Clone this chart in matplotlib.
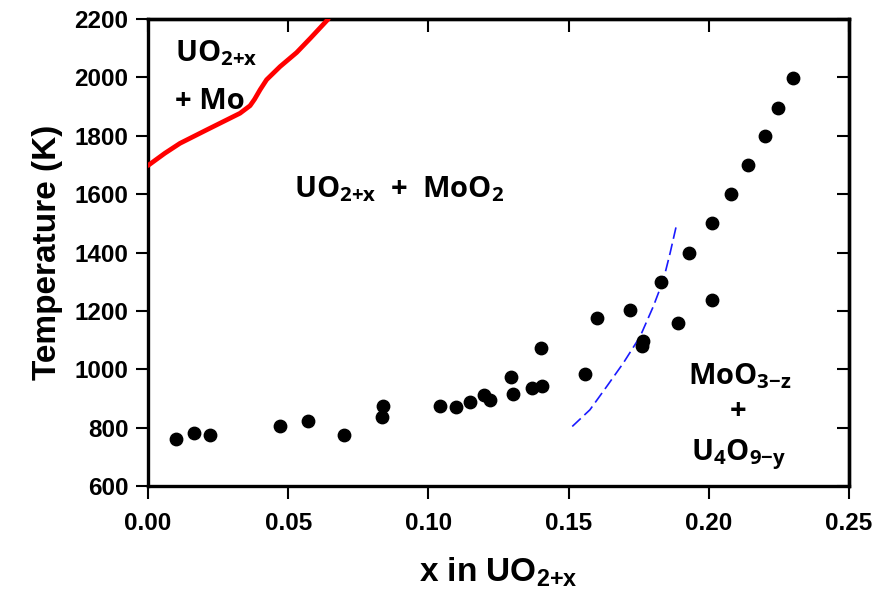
import numpy as np
import matplotlib.pyplot as plt

# measured points
x_pts = [0.010, 0.0165, 0.022, 0.047, 0.057, 0.070, 0.0839, 0.0836, 0.104, 0.110,
         0.115, 0.120, 0.122, 0.1296, 0.130, 0.137, 0.1405, 0.140, 0.156, 0.160,
         0.172, 0.176, 0.1765, 0.189, 0.183, 0.193, 0.201, 0.201, 0.208, 0.214,
         0.220, 0.2246, 0.230]
T_pts = [761, 783, 775, 807, 821, 775, 875, 838, 875, 872,
         889, 912, 894, 973, 916, 935, 941, 1073, 983, 1175,
         1203, 1078, 1097, 1160, 1299, 1400, 1238, 1500, 1600, 1700,
         1799, 1896, 1999]

# UO2+x / UO2+x+Mo boundary (red)
x_red = [0.0, 0.006, 0.0114, 0.0209, 0.0328, 0.0364, 0.0380, 0.0400, 0.0423, 0.0471, 0.053, 0.058, 0.0643]
T_red = [1698, 1740, 1774, 1820, 1877, 1903, 1925, 1958, 1992, 2037, 2085, 2135, 2200]

# blue dashed curve
x_blue = [0.1513, 0.1576, 0.1636, 0.1695, 0.1755, 0.1802, 0.1838, 0.1862, 0.1885]
T_blue = [804, 861, 941, 1021, 1112, 1215, 1306, 1398, 1495]

xticks = [0.00, 0.05, 0.10, 0.15, 0.20, 0.25]
yticks = [600, 800, 1000, 1200, 1400, 1600, 1800, 2000, 2200]

plt.rcParams['font.family'] = ['Liberation Sans', 'DejaVu Sans']
plt.rcParams['mathtext.fontset'] = 'custom'

fig = plt.figure(figsize=(8.76, 5.98), dpi=100)
ax = fig.add_axes([148/876, 112/598, 701/876, 467/598])

ax.plot(x_red, T_red, color='#ff0000', lw=3.4, solid_capstyle='round',
        solid_joinstyle='round', zorder=3)
ax.plot(x_blue, T_blue, color='#1a1aff', lw=1.2, dashes=(7, 3), zorder=3)
ax.scatter(x_pts, T_pts, s=80, color='black', zorder=4)

ax.set_xlim(0, 0.25)
ax.set_ylim(600, 2200)
ax.set_xticks(xticks)
ax.set_yticks(yticks)
ax.set_xticklabels(['%.2f' % v for v in xticks], fontsize=17.5, fontweight='bold')
ax.set_yticklabels([str(v) for v in yticks], fontsize=17.5, fontweight='bold')
ax.tick_params(axis='both', which='both', length=9, width=1.5, direction='out', pad=5)
ax.tick_params(axis='x', pad=10)

# inward ticks on top and right
ax2 = ax.secondary_xaxis('top')
ax2.set_xticks(xticks)
ax2.tick_params(direction='in', length=9, width=1.5, labeltop=False)
ax3 = ax.secondary_yaxis('right')
ax3.set_yticks(yticks)
ax3.tick_params(direction='in', length=9, width=1.5, labelright=False)
for a in [ax, ax2, ax3]:
    for s in a.spines.values():
        s.set_linewidth(2.4)

ax.set_ylabel('Temperature (K)', fontsize=24, fontweight='bold', labelpad=8)
ax.set_xlabel(r'x in UO$_{\mathdefault{2{+}x}}$', fontsize=24, fontweight='bold',
              family=['Liberation Sans Narrow', 'Liberation Sans'], labelpad=14)

lab = dict(fontsize=21, fontweight='bold', family=['Open Sans', 'DejaVu Sans'], color='black')
ax.text(0.0095, 2055, r'UO$_{\mathdefault{2{+}x}}$', **lab)
ax.text(0.0095, 1890, '+ Mo', **lab)
ax.text(0.052, 1590, r'UO$_{\mathdefault{2{+}x}}$  +  MoO$_{\mathdefault{2}}$', **lab)
ax.text(0.2112, 950, r'MoO$_{\mathdefault{3{-}z}}$', ha='center', **lab)
ax.text(0.2105, 830, '+', ha='center', **lab)
ax.text(0.2105, 690, r'U$_{\mathdefault{4}}$O$_{\mathdefault{9{-}y}}$', ha='center', **lab)

fig.savefig('out.png', dpi=100)
